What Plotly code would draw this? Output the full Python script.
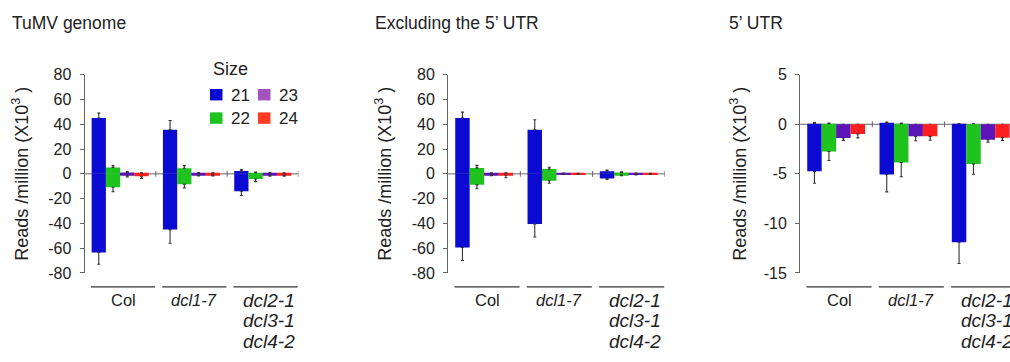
import plotly.graph_objects as go

# ---- data -------------------------------------------------------------
genotypes = ["Col", "dcl1-7", "dcl2-1 dcl3-1 dcl4-2"]
genotype_lines = [["Col"], ["<i>dcl1-7</i>"],
                  ["<i>dcl2-1</i>", "<i>dcl3-1</i>", "<i>dcl4-2</i>"]]
sizes = ["21", "22", "23", "24"]
bar_colors = ["#0a0ad2", "#1ec31e", "#5c14b8", "#ff1e1e"]
legend_colors = ["#0a0ad2", "#1ec31e", "#a452bd", "#ff3a22"]

panel_titles = ["TuMV genome", "Excluding the 5\u2019 UTR", "5\u2019 UTR"]

# TuMV genome (x10^3 reads / million), sense (+) and antisense (-)
genome_sense = {"21": [45.0, 35.5, 2.2], "22": [5.2, 4.5, 0.9],
                "23": [1.0, 0.5, 0.5], "24": [0.3, 0.4, 0.4]}
genome_sense_err = {"21": [4.0, 7.5, 1.2], "22": [1.5, 2.1, 0.6],
                    "23": [0.8, 0.5, 0.5], "24": [0.5, 0.5, 0.5]}
genome_anti = {"21": [-63.5, -45.0, -14.0], "22": [-10.8, -8.4, -4.2],
               "23": [-1.2, -1.0, -1.2], "24": [-2.0, -1.0, -1.2]}
genome_anti_err = {"21": [9.5, 11.0, 3.5], "22": [3.7, 3.1, 2.1],
                   "23": [1.3, 0.8, 0.8], "24": [1.7, 0.8, 0.8]}

# Excluding the 5' UTR
excl_sense = {"21": [45.0, 35.6, 2.0], "22": [4.8, 3.8, 1.0],
              "23": [0.4, 0.4, 0.4], "24": [0.3, 0.2, 0.2]}
excl_sense_err = {"21": [4.8, 8.0, 1.0], "22": [2.0, 1.5, 0.6],
                  "23": [0.5, 0.3, 0.3], "24": [0.5, 0.2, 0.2]}
excl_anti = {"21": [-59.4, -40.5, -3.8], "22": [-8.9, -5.6, -1.0],
             "23": [-0.8, -0.3, -0.5], "24": [-1.0, -0.3, -0.3]}
excl_anti_err = {"21": [10.5, 10.5, 0.8], "22": [3.2, 2.0, 0.6],
                 "23": [0.8, 0.2, 0.4], "24": [2.2, 0.2, 0.2]}

# 5' UTR
utr_sense = {"21": [0.05, 0.12, 0.02], "22": [0.02, 0.02, 0.0],
             "23": [0.0, 0.0, 0.0], "24": [0.0, 0.0, 0.0]}
utr_sense_err = {"21": [0.12, 0.1, 0.05], "22": [0.1, 0.1, 0.05],
                 "23": [0.0, 0.0, 0.0], "24": [0.0, 0.0, 0.0]}
utr_anti = {"21": [-4.75, -5.07, -11.9], "22": [-2.75, -3.85, -4.0],
            "23": [-1.38, -1.22, -1.55], "24": [-0.97, -1.22, -1.35]}
utr_anti_err = {"21": [1.2, 1.75, 2.15], "22": [0.9, 1.45, 1.05],
                "23": [0.25, 0.45, 0.25], "24": [0.4, 0.4, 0.28]}

panels = [
    (genome_sense, genome_sense_err, genome_anti, genome_anti_err),
    (excl_sense, excl_sense_err, excl_anti, excl_anti_err),
    (utr_sense, utr_sense_err, utr_anti, utr_anti_err),
]
y_ranges = [[-80, 80], [-80, 80], [-15, 5]]
y_ticks = [list(range(-80, 81, 20)), list(range(-80, 81, 20)), [-15, -10, -5, 0, 5]]

# ---- geometry (pixels in a 1010 x 362 canvas) -------------------------
W, H = 1010, 362
FONT = "Liberation Sans, Arial, Helvetica, sans-serif"


def fx(px):
    return px / W


def fy(py):
    return 1 - py / H


# left edge of each plot, width of one genotype group, top/bottom of y axis
plot_left = [84.5, 448, 800]
group_px = [71.3, 72.3, 72.3]
y_top, y_bot = 70, 278
bar_w = 0.2
offsets = [-0.3, -0.1, 0.1, 0.3]

fig = go.Figure()
layout = dict(
    width=W, height=H, margin=dict(l=0, r=0, t=0, b=0),
    paper_bgcolor="white", plot_bgcolor="white",
    barmode="overlay", showlegend=False,
    font=dict(family=FONT, color="#222"),
)
shapes, annotations = [], []

for p, (sense, sense_err, anti, anti_err) in enumerate(panels):
    sfx = "" if p == 0 else str(p + 1)
    xa, ya = "x" + sfx, "y" + sfx
    left = plot_left[p]
    right = min(left + 3 * group_px[p], W)
    x_hi = -0.5 + (right - left) / group_px[p]

    layout["xaxis" + sfx] = dict(
        domain=[fx(left), fx(right)], range=[-0.5, x_hi], anchor=ya,
        visible=False, fixedrange=True,
    )
    layout["yaxis" + sfx] = dict(
        domain=[fy(y_bot), fy(y_top)], range=y_ranges[p], anchor=xa,
        tickvals=y_ticks[p], ticktext=[str(v) for v in y_ticks[p]],
        showgrid=False, zeroline=False,
        showline=True, linecolor="#666", linewidth=1,
        ticks="outside", ticklen=4, tickcolor="#666", tickwidth=1,
        ticklabelstandoff=5,
        tickfont=dict(size=16, color="#222", family=FONT),
    )

    for s, size in enumerate(sizes):
        xs = [g + offsets[s] for g in range(len(genotypes))]
        common = dict(x=xs, width=bar_w, xaxis=xa, yaxis=ya,
                      marker=dict(color=bar_colors[s], line=dict(width=0)),
                      name=size, hoverinfo="y")
        fig.add_trace(go.Bar(
            y=sense[size],
            error_y=dict(type="data", symmetric=False, array=sense_err[size],
                         arrayminus=[0] * 3, color="#333", thickness=1.1, width=1.5),
            **common))
        fig.add_trace(go.Bar(
            y=anti[size],
            error_y=dict(type="data", symmetric=False, array=[0] * 3,
                         arrayminus=anti_err[size], color="#333", thickness=1.1, width=1.5),
            **common))

    # zero baseline with group separators
    shapes.append(dict(type="line", xref=xa, yref=ya, x0=-0.5, x1=2.5, y0=0, y1=0,
                       line=dict(color="#666", width=1), layer="below"))
    for g in range(len(genotypes)):
        shapes.append(dict(type="line", xref=xa, yref=ya, xsizemode="scaled",
                           ysizemode="pixel", yanchor=0, x0=g + 0.5, x1=g + 0.5,
                           y0=-3, y1=3, line=dict(color="#666", width=1)))
        # genotype underline
        shapes.append(dict(type="line", xref=xa, yref="paper",
                           x0=g - 0.41, x1=g + 0.49, y0=fy(292.7), y1=fy(292.7),
                           line=dict(color="#333", width=1.2)))
        stacked = len(genotype_lines[g]) > 1
        shift = 0.085 if stacked else 0.04
        size_px = 19 if stacked else 16.5
        for k, line_txt in enumerate(genotype_lines[g]):
            annotations.append(dict(
                xref=xa, yref="paper", x=g + shift, y=fy(306.7 + 21.7 * k),
                text=line_txt, showarrow=False, xanchor="center", yanchor="middle",
                font=dict(size=size_px, color="#222", family=FONT)))

    # panel title
    title_x = [10, 373, 727][p]
    annotations.append(dict(
        xref="paper", yref="paper", x=fx(title_x), y=fy(16), text=panel_titles[p],
        showarrow=False, xanchor="left", yanchor="middle",
        font=dict(size=17.5, color="#222", family=FONT)))

    # y-axis title
    ytitle_x = [21, 384, 739][p]
    annotations.append(dict(
        xref="paper", yref="paper", x=fx(ytitle_x), y=fy(174),
        text="Reads /million (X10<sup>3</sup> )", textangle=-90, showarrow=False,
        xanchor="center", yanchor="middle",
        font=dict(size=18, color="#222", family=FONT)))

# ---- legend (two columns: 21/23 over 22/24) ---------------------------
annotations.append(dict(xref="paper", yref="paper", x=fx(211), y=fy(63.5), text="Size",
                        showarrow=False, xanchor="left", yanchor="middle",
                        font=dict(size=18, color="#222", family=FONT)))
legend_slots = {"21": (210, 91), "22": (210, 115.5), "23": (258, 91), "24": (258, 115.5)}
for s, size in enumerate(sizes):
    lx, ly = legend_slots[size]
    shapes.append(dict(type="rect", xref="paper", yref="paper",
                       x0=fx(lx), x1=fx(lx + 12.5), y0=fy(ly + 6), y1=fy(ly - 6),
                       fillcolor=legend_colors[s], line=dict(width=0)))
    annotations.append(dict(xref="paper", yref="paper", x=fx(lx + 19), y=fy(ly + 0.5),
                            text=size, showarrow=False, xanchor="left", yanchor="middle",
                            font=dict(size=17, color="#222", family=FONT)))

layout["shapes"] = shapes
layout["annotations"] = annotations
fig.update_layout(**layout)

fig.write_html("out.html")
